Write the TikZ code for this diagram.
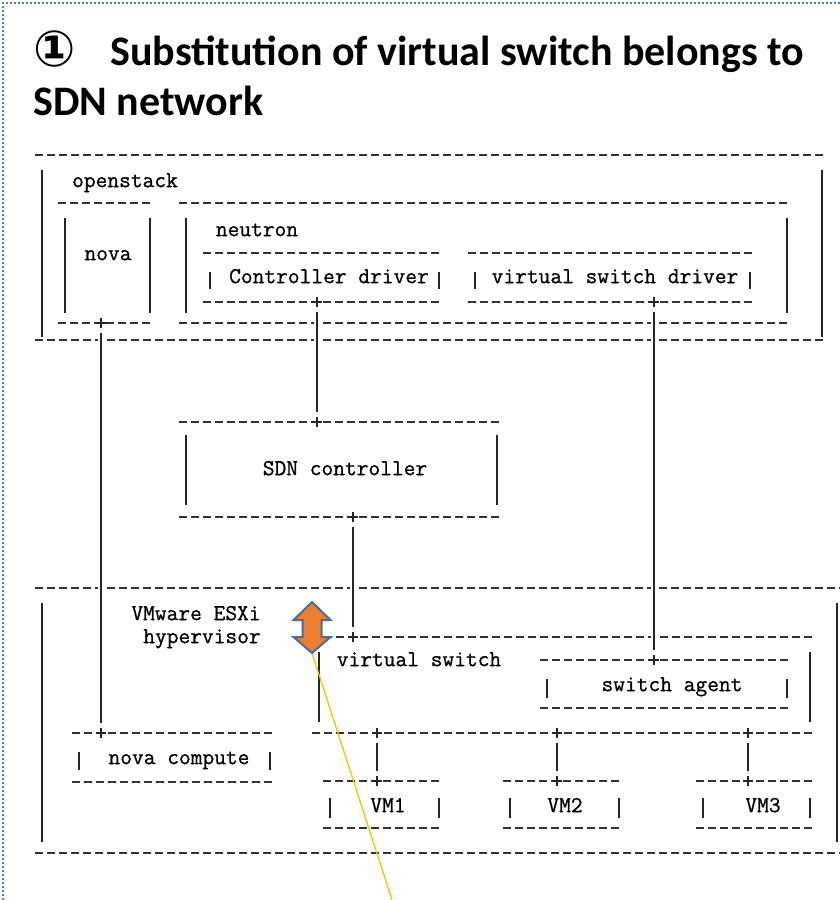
\documentclass[tikz,border=0pt]{standalone}
\usepackage{fontspec}
\newfontfamily\asciifont[FakeBold=0.8]{Latin Modern Mono}
\newfontfamily\titlefont{Carlito}
\newfontfamily\symbolfont{DejaVu Sans}
\definecolor{framecol}{RGB}{74,126,187}
\definecolor{arrowfill}{RGB}{237,125,49}
\definecolor{arrowline}{RGB}{65,113,156}
\definecolor{calloutcol}{RGB}{255,192,0}
\tikzset{
  dashln/.style={draw=black!80, line width=1.7pt, dash pattern=on 8pt off 4pt},
  sideln/.style={draw=black!85, line width=1.8pt},
  boxarea/.style={inner sep=0pt, outer sep=0pt, draw=none},
  connln/.style={draw=black!85, line width=1.8pt, shorten <=10pt, shorten >=10pt},
  gapln/.style={draw=white, line width=7pt, shorten <=13pt, shorten >=13pt},
  plusst/.style={draw=black!85, line width=1.6pt},
  asc/.style={font=\asciifont\fontsize{22.8}{23}\selectfont, inner sep=0pt, anchor=mid},
  titlest/.style={font=\titlefont\bfseries\fontsize{42}{50}\selectfont, inner sep=0pt, anchor=base west},
  arrowst/.style={fill=arrowfill, draw=arrowline, line width=2pt, line join=miter},
  callout/.style={draw=calloutcol, line width=1.3pt},
  frame/.style={draw=framecol, line width=2pt, dash pattern=on 2pt off 2pt}
}
% name, x1, ytop, x2, ybottom, side top inset, side bottom inset
\newcommand\asciibox[7]{%
  \node[boxarea, minimum width={(#4-#2)*1pt}, minimum height={(#5-#3)*1pt}] (#1) at ({(#2+#4)/2},{(#3+#5)/2}) {};
  \draw[dashln] (#1.north west) -- (#1.north east);
  \draw[dashln] (#1.south west) -- (#1.south east);
  \draw[sideln] ([xshift=7pt,yshift=-#6pt]#1.north west) -- ([xshift=7pt,yshift=#7pt]#1.south west);
  \draw[sideln] ([xshift=-3pt,yshift=-#6pt]#1.north east) -- ([xshift=-3pt,yshift=#7pt]#1.south east);
}
\newcommand\linkit[2]{%
  \draw[gapln] (#1) -- (#2);
  \draw[connln] (#1) -- (#2);
}
\newcommand\plusat[1]{%
  \draw[plusst] ([xshift=-5pt]#1) -- ([xshift=5pt]#1) ([yshift=-5pt]#1) -- ([yshift=5pt]#1);
}
\begin{document}
\begin{tikzpicture}[x=1pt,y=-1pt]
\useasboundingbox (0,0) rectangle (840,900);
\fill[white] (0,0) rectangle (840,900);
% outer dotted frame
\draw[frame] (3,900) -- (3,3) -- (840,3);
% title
\node[titlest] (title1) at (33,65) {\makebox[77pt][l]{\hspace{0pt}\raisebox{-1pt}{\symbolfont\fontsize{50}{50}\selectfont ①}}Substitution of virtual switch belongs to};
\node[titlest] (title2) at (33,115) {SDN network};

% boxes
\asciibox{ostack}{35}{155}{825}{340}{15}{3}
\asciibox{nova}{58}{203}{153}{323}{15}{10}
\asciibox{neutron}{179}{203}{790}{323}{15}{10}
\asciibox{cdrv}{203}{253}{442}{302}{19}{13}
\asciibox{vsd}{468}{253}{753}{302}{19}{13}
\asciibox{sdn}{179}{422}{500}{517}{13}{12}
\asciibox{vmw}{35}{588}{840}{853}{15}{11}
\asciibox{vsw}{312}{637}{813}{733}{15}{11}
\asciibox{agent}{540}{660}{790}{708}{19}{10}
\asciibox{novac}{72}{733}{273}{782}{19}{12}
\asciibox{vmone}{323}{781}{442}{828}{17}{10}
\asciibox{vmtwo}{503}{781}{622}{828}{17}{10}
\asciibox{vmthree}{696}{781}{813}{828}{17}{10}

% labels
\node[asc] (l-ostack) at (125,185) {openstack};
\node[asc] (l-nova) at (108,258) {nova};
\node[asc] (l-neutron) at (257,234) {neutron};
\node[asc] (l-cdrv) at (329,281) {Controller driver};
\node[asc] (l-vsd) at (615,281) {virtual switch driver};
\node[asc] (l-sdn) at (345,473) {SDN controller};
\node[asc] (l-vmw1) at (196,618) {VMware ESXi};
\node[asc] (l-vmw2) at (202,641) {hypervisor};
\node[asc] (l-vsw) at (419,664) {virtual switch};
\node[asc] (l-agent) at (672,689) {switch agent};
\node[asc] (l-novac) at (179,762) {nova compute};
\node[asc] (l-vm1) at (388,810) {VM1};
\node[asc] (l-vm2) at (565,810) {VM2};
\node[asc] (l-vm3) at (763,810) {VM3};

% junction points
\coordinate (novaP) at (101,323);
\coordinate (ncTop) at (101,733);
\coordinate (cdrvP) at (317,302);
\coordinate (sdnTop) at (317,422);
\coordinate (sdnBot) at (353,517);
\coordinate (vswTop) at (353,637);
\coordinate (vsdP) at (654,302);
\coordinate (agentTop) at (654,660);
\coordinate (vswA) at (377,733);
\coordinate (vswB) at (557,733);
\coordinate (vswC) at (748,733);
\coordinate (vmAT) at (377,781);
\coordinate (vmBT) at (557,781);
\coordinate (vmCT) at (748,781);

% connectors
\linkit{novaP}{ncTop}
\linkit{cdrvP}{sdnTop}
\linkit{sdnBot}{vswTop}
\linkit{vsdP}{agentTop}
\linkit{vswA}{vmAT}
\linkit{vswB}{vmBT}
\linkit{vswC}{vmCT}

% plus marks
\foreach \p in {novaP,ncTop,cdrvP,sdnTop,sdnBot,vswTop,vsdP,agentTop,vswA,vswB,vswC,vmAT,vmBT,vmCT}{\plusat{\p}}

% callout line and double arrow
\coordinate (arrC) at (312,627.5);
\coordinate (arrTip) at (312,653);
\coordinate (callEnd) at (392,900);
\draw[callout] (arrTip) -- (callEnd);
\draw[arrowst] (arrC) ++(0,-25.5) -- ++(18.5,18) -- ++(-9,0) -- ++(0,17) -- ++(9,0) -- ++(-18.5,16) -- ++(-18.5,-16) -- ++(9,0) -- ++(0,-17) -- ++(-9,0) -- cycle;
\end{tikzpicture}
\end{document}
